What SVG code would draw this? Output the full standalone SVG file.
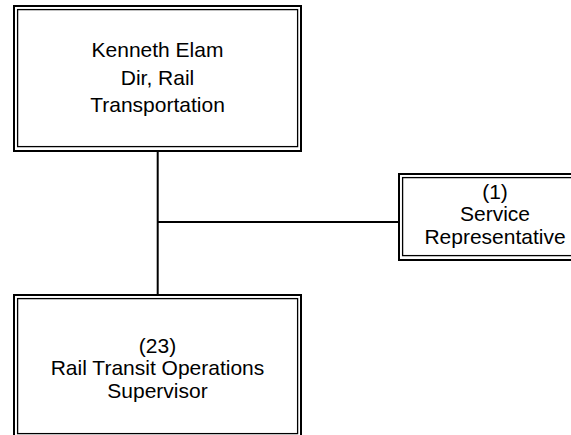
<svg xmlns="http://www.w3.org/2000/svg" width="571" height="435" viewBox="0 0 571 435">
<style>
.outer{fill:none;stroke:#000;stroke-width:2}
.inner{fill:none;stroke:#000;stroke-width:1.3}
.conn{stroke:#000;stroke-width:2;fill:none}
text{font-family:"Liberation Sans",Arial,sans-serif;font-size:21px;fill:#000;text-anchor:middle}
</style>
<rect width="571" height="435" fill="#fff"/>
<g id="connectors">
<line class="conn" x1="157.7" y1="151" x2="157.7" y2="295"/>
<line class="conn" x1="157.7" y1="222" x2="399" y2="222"/>
</g>
<g id="node-director">
<rect class="outer" x="14" y="6" width="287" height="145"/>
<rect class="inner" x="17.6" y="9.6" width="280" height="137"/>
<text x="157.5" y="57">Kenneth Elam</text>
<text x="157.5" y="84.5">Dir, Rail</text>
<text x="157.5" y="111.7">Transportation</text>
</g>
<g id="node-service">
<rect class="outer" x="399" y="174" width="200" height="86"/>
<rect class="inner" x="402.6" y="177.6" width="193" height="78"/>
<text x="495" y="199">(1)</text>
<text x="495" y="221">Service</text>
<text x="495" y="243.5">Representative</text>
</g>
<g id="node-supervisor">
<rect class="outer" x="14" y="295" width="287" height="145"/>
<rect class="inner" x="17.6" y="298.6" width="280" height="135"/>
<text x="157.5" y="352.5">(23)</text>
<text x="157.5" y="374.5">Rail Transit Operations</text>
<text x="157.5" y="398">Supervisor</text>
</g>
</svg>
